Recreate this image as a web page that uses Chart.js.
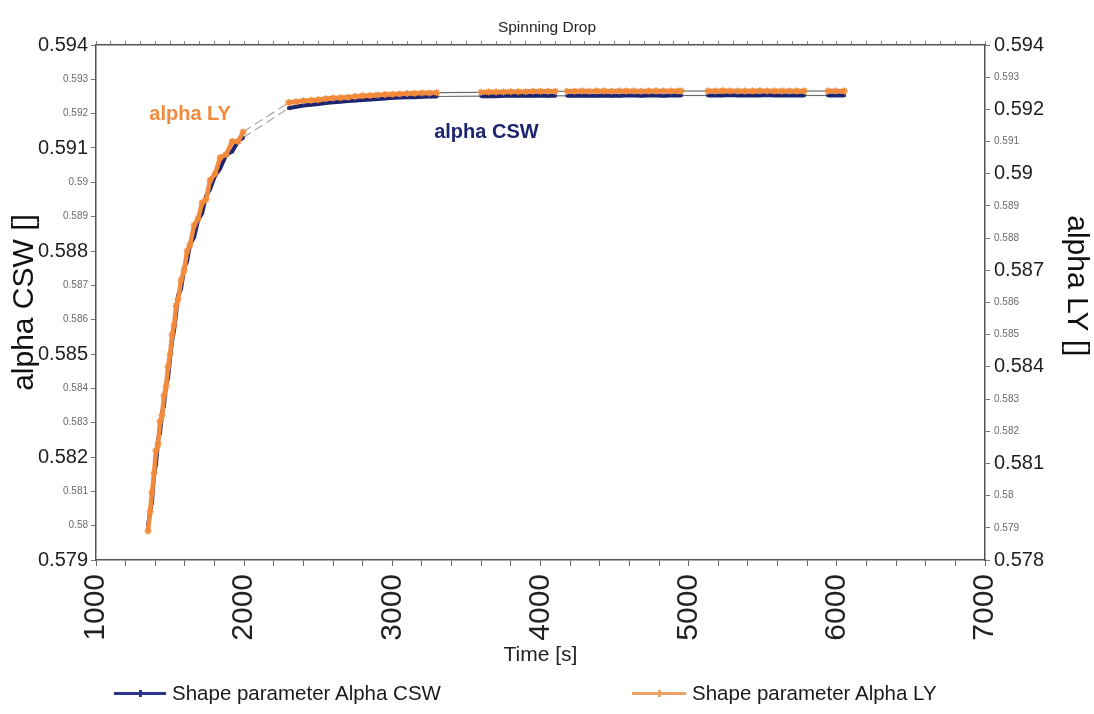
<!DOCTYPE html>
<html>
<head>
<meta charset="utf-8">
<script src="https://cdn.jsdelivr.net/npm/chart.js@4"></script>
<style>
  html, body { margin: 0; padding: 0; background: #fff; }
  #wrap { position: relative; width: 1094px; height: 714px; }
  #legend {
    position: absolute; left: 0; top: 678px; width: 1094px; height: 30px;
    font-family: "Liberation Sans", Arial, sans-serif;
    font-size: 20.5px; color: #1a1a1a;
  }
  .item { position: absolute; top: 0; height: 30px; display: flex; align-items: center; }
  .swatch { position: relative; height: 3px; margin-right: 6px; }
  .swatch i { position: absolute; left: 50%; top: -2px; width: 3px; height: 7px; margin-left: -1px; }
</style>
</head>
<body>
<div id="wrap">
  <canvas id="chart" width="1094" height="714"></canvas>
  <div id="legend"></div>
</div>
<script>
// time of each frame [s]
const timeSec = [
  1351, 1365, 1378, 1392, 1405, 1419, 1432, 1446, 1459, 1473, 1486, 1500, 1514, 1527, 1541, 1554,
  1574, 1595, 1615, 1635, 1662, 1689, 1716, 1743, 1770, 1804, 1838, 1878, 1919, 1959, 1993,
  2300, 2350, 2400, 2450, 2500, 2550, 2600, 2650, 2700, 2750, 2800, 2850, 2900, 2950, 3000,
  3050, 3100, 3150, 3200, 3250, 3300,
  3600, 3650, 3700, 3750, 3800, 3850, 3900, 3950, 4000, 4050, 4100,
  4180, 4230, 4280, 4330, 4380, 4430, 4480, 4530, 4580, 4630, 4680, 4730, 4780, 4830, 4880, 4930, 4950,
  5130, 5180, 5230, 5280, 5330, 5380, 5430, 5480, 5530, 5580, 5630, 5680, 5730, 5780,
  5940, 5990, 6050
];

// shape parameter, CSW fit (left axis)
const alphaCSW = [
  0.5800, 0.5804, 0.5807, 0.5815, 0.5818, 0.5825, 0.5827, 0.5833, 0.5835, 0.5841, 0.5843, 0.5849,
  0.5854, 0.5857, 0.5862, 0.5867, 0.5869, 0.5875, 0.5877, 0.5882, 0.5884, 0.5889, 0.5891, 0.5896,
  0.5898, 0.5902, 0.5904, 0.5908, 0.5909, 0.5912, 0.5913,
  0.59216, 0.59220, 0.59224, 0.59226, 0.59228, 0.59231, 0.59233, 0.59235, 0.59237, 0.59238, 0.59240,
  0.59241, 0.59243, 0.59244, 0.59246, 0.59247, 0.59248, 0.59248, 0.59249, 0.59250, 0.59250,
  0.59251, 0.59251, 0.59251, 0.59252, 0.59252, 0.59252, 0.59252, 0.59252, 0.59253, 0.59252, 0.59252,
  0.59252, 0.59252, 0.59253, 0.59252, 0.59252, 0.59253, 0.59252, 0.59252, 0.59253, 0.59253, 0.59252,
  0.59253, 0.59253, 0.59252, 0.59253, 0.59253, 0.59253,
  0.59253, 0.59253, 0.59253, 0.59254, 0.59253, 0.59253, 0.59253, 0.59253, 0.59254, 0.59253, 0.59253,
  0.59253, 0.59253, 0.59253,
  0.59253, 0.59253, 0.59253
];

// shape parameter, LY fit (right axis)
const alphaLY = [
  0.5789, 0.5795, 0.5801, 0.5807, 0.5814, 0.5816, 0.5823, 0.5825, 0.5831, 0.5834, 0.5840, 0.5844,
  0.5850, 0.5853, 0.5859, 0.5861, 0.5867, 0.5870, 0.5876, 0.5878, 0.5884, 0.5886, 0.5891, 0.5892,
  0.5898, 0.5900, 0.5905, 0.5906, 0.5910, 0.5910, 0.5913,
  0.59221, 0.59224, 0.59227, 0.59228, 0.59230, 0.59233, 0.59235, 0.59236, 0.59238, 0.59240, 0.59242,
  0.59243, 0.59245, 0.59246, 0.59247, 0.59248, 0.59249, 0.59250, 0.59251, 0.59251, 0.59252,
  0.59253, 0.59254, 0.59254, 0.59254, 0.59255, 0.59255, 0.59255, 0.59256, 0.59256, 0.59256, 0.59256,
  0.59256, 0.59256, 0.59257, 0.59256, 0.59257, 0.59257, 0.59256, 0.59257, 0.59257, 0.59257, 0.59256,
  0.59257, 0.59257, 0.59257, 0.59257, 0.59257, 0.59257,
  0.59257, 0.59257, 0.59258, 0.59257, 0.59257, 0.59257, 0.59257, 0.59258, 0.59257, 0.59257, 0.59257,
  0.59257, 0.59257, 0.59257,
  0.59257, 0.59257, 0.59257
];

// tick values printed in the large font
const leftMajor = [0.579, 0.582, 0.585, 0.588, 0.591, 0.594];
const rightMajor = [0.578, 0.581, 0.584, 0.587, 0.59, 0.592, 0.594];
const timeLabels = [1000, 2000, 3000, 4000, 5000, 6000, 7000];

const FONT = '"Liberation Sans", Arial, sans-serif';
const NAVY = '#1d2470';
const ORANGE = '#f28a3c';

const isIn = (v, list) => list.some(m => Math.abs(m - v) < 1e-7);
const fmt = v => String(parseFloat(Number(v).toFixed(3)));
const tickIn = (c, list) => !!(c.tick && isIn(c.tick.value, list));

const bigTick = {family: FONT, size: 20};
const smallTick = {family: FONT, size: 10};

// segments bridging missing frames are drawn as thin grey connectors
const isGap = c => c.p1.parsed.x - c.p0.parsed.x > 70;
const gapStyle = {
  borderColor: c => isGap(c) ? (c.p0.parsed.x < 2200 ? '#a8a8a8' : '#6d6d6d') : undefined,
  borderWidth: c => isGap(c) ? 1.2 : undefined,
  borderDash: c => (isGap(c) && c.p0.parsed.x < 2200) ? [9, 5] : undefined
};

const seriesTags = {
  id: 'seriesTags',
  afterDatasetsDraw(chart) {
    const {ctx, scales: {x, y}} = chart;
    ctx.save();
    ctx.font = 'bold 20px ' + FONT;
    ctx.textAlign = 'center';
    ctx.textBaseline = 'middle';
    ctx.fillStyle = ORANGE;
    ctx.fillText('alpha LY', x.getPixelForValue(1635), y.getPixelForValue(0.59199));
    ctx.fillStyle = NAVY;
    ctx.fillText('alpha CSW', x.getPixelForValue(3635), y.getPixelForValue(0.59144));
    ctx.restore();
  }
};

new Chart(document.getElementById('chart'), {
  type: 'line',
  data: {
    datasets: [
      {
        label: 'Shape parameter Alpha CSW',
        data: timeSec.map((t, i) => ({x: t, y: alphaCSW[i]})),
        yAxisID: 'y',
        borderColor: NAVY,
        backgroundColor: NAVY,
        borderWidth: 4,
        pointStyle: 'rect',
        pointRadius: 2.2,
        pointBorderWidth: 0,
        order: 1,
        segment: gapStyle
      },
      {
        label: 'Shape parameter Alpha LY',
        data: timeSec.map((t, i) => ({x: t, y: alphaLY[i]})),
        yAxisID: 'y1',
        borderColor: ORANGE,
        backgroundColor: ORANGE,
        borderWidth: 4.5,
        pointStyle: 'star',
        pointRadius: 3.5,
        pointBorderColor: ORANGE,
        pointBorderWidth: 1.5,
        order: 0,
        segment: gapStyle
      }
    ]
  },
  options: {
    responsive: false,
    animation: false,
    devicePixelRatio: 1,
    layout: {padding: {top: 8, bottom: 29, left: 0, right: 0}},
    plugins: {
      legend: {display: false},
      tooltip: {enabled: false},
      title: {
        display: true,
        text: 'Spinning Drop',
        color: '#222',
        font: {family: FONT, size: 15.5, weight: 'normal'},
        padding: {top: 10, bottom: 8.4}
      }
    },
    scales: {
      x: {
        type: 'linear',
        position: 'bottom',
        min: 1000,
        max: 7000,
        afterFit: s => { s.height = 125; },
        border: {color: '#555', width: 1.5},
        grid: {drawOnChartArea: false, tickLength: 6, color: '#666'},
        ticks: {
          stepSize: 200,
          autoSkip: false,
          minRotation: 90,
          maxRotation: 90,
          padding: 8,
          color: '#222',
          font: {family: FONT, size: 30},
          callback: v => isIn(v, timeLabels) ? String(v) : ''
        },
        title: {
          display: true,
          text: 'Time [s]',
          color: '#222',
          font: {family: FONT, size: 21},
          padding: {top: 0, bottom: 17.4}
        }
      },
      xTop: {
        type: 'linear',
        position: 'top',
        min: 1000,
        max: 7000,
        afterFit: s => { s.height = 0; },
        border: {color: '#555', width: 1.5},
        grid: {drawOnChartArea: false, tickLength: 4, color: '#888'},
        ticks: {stepSize: 100, autoSkip: false, display: false}
      },
      y: {
        position: 'left',
        min: 0.579,
        max: 0.594,
        afterFit: s => { s.width = 96; },
        border: {color: '#555', width: 1.5},
        grid: {drawOnChartArea: false, tickLength: 5, color: '#777'},
        ticks: {
          stepSize: 0.001,
          autoSkip: false,
          padding: 3,
          font: c => tickIn(c, leftMajor) ? bigTick : smallTick,
          color: c => tickIn(c, leftMajor) ? '#1e1e1e' : '#6a6a6a',
          callback: v => fmt(v)
        },
        title: {
          display: true,
          text: 'alpha CSW []',
          color: '#111',
          font: {family: FONT, size: 30},
          padding: {top: 7, bottom: 0}
        }
      },
      y1: {
        position: 'right',
        min: 0.578,
        max: 0.594,
        afterFit: s => { s.width = 109; },
        border: {color: '#555', width: 1.5},
        grid: {drawOnChartArea: false, tickLength: 5, color: '#777'},
        ticks: {
          stepSize: 0.001,
          autoSkip: false,
          padding: 4,
          font: c => tickIn(c, rightMajor) ? bigTick : smallTick,
          color: c => tickIn(c, rightMajor) ? '#1e1e1e' : '#6a6a6a',
          callback: v => fmt(v)
        },
        title: {
          display: true,
          text: 'alpha LY []    ',
          color: '#111',
          font: {family: FONT, size: 30},
          padding: {top: 0, bottom: 0}
        }
      }
    }
  },
  plugins: [seriesTags]
});

// legend row under the axis title
const legendItems = [
  {text: 'Shape parameter Alpha CSW', color: '#2b3590', left: 114, width: 52},
  {text: 'Shape parameter Alpha LY', color: '#eda063', left: 632, width: 54}
];
const legend = document.getElementById('legend');
legendItems.forEach(it => {
  const item = document.createElement('div');
  item.className = 'item';
  item.style.left = it.left + 'px';
  const sw = document.createElement('span');
  sw.className = 'swatch';
  sw.style.width = it.width + 'px';
  sw.style.background = it.color;
  const mark = document.createElement('i');
  mark.style.background = it.color;
  sw.appendChild(mark);
  const label = document.createElement('span');
  label.textContent = it.text;
  item.appendChild(sw);
  item.appendChild(label);
  legend.appendChild(item);
});
</script>
</body>
</html>
